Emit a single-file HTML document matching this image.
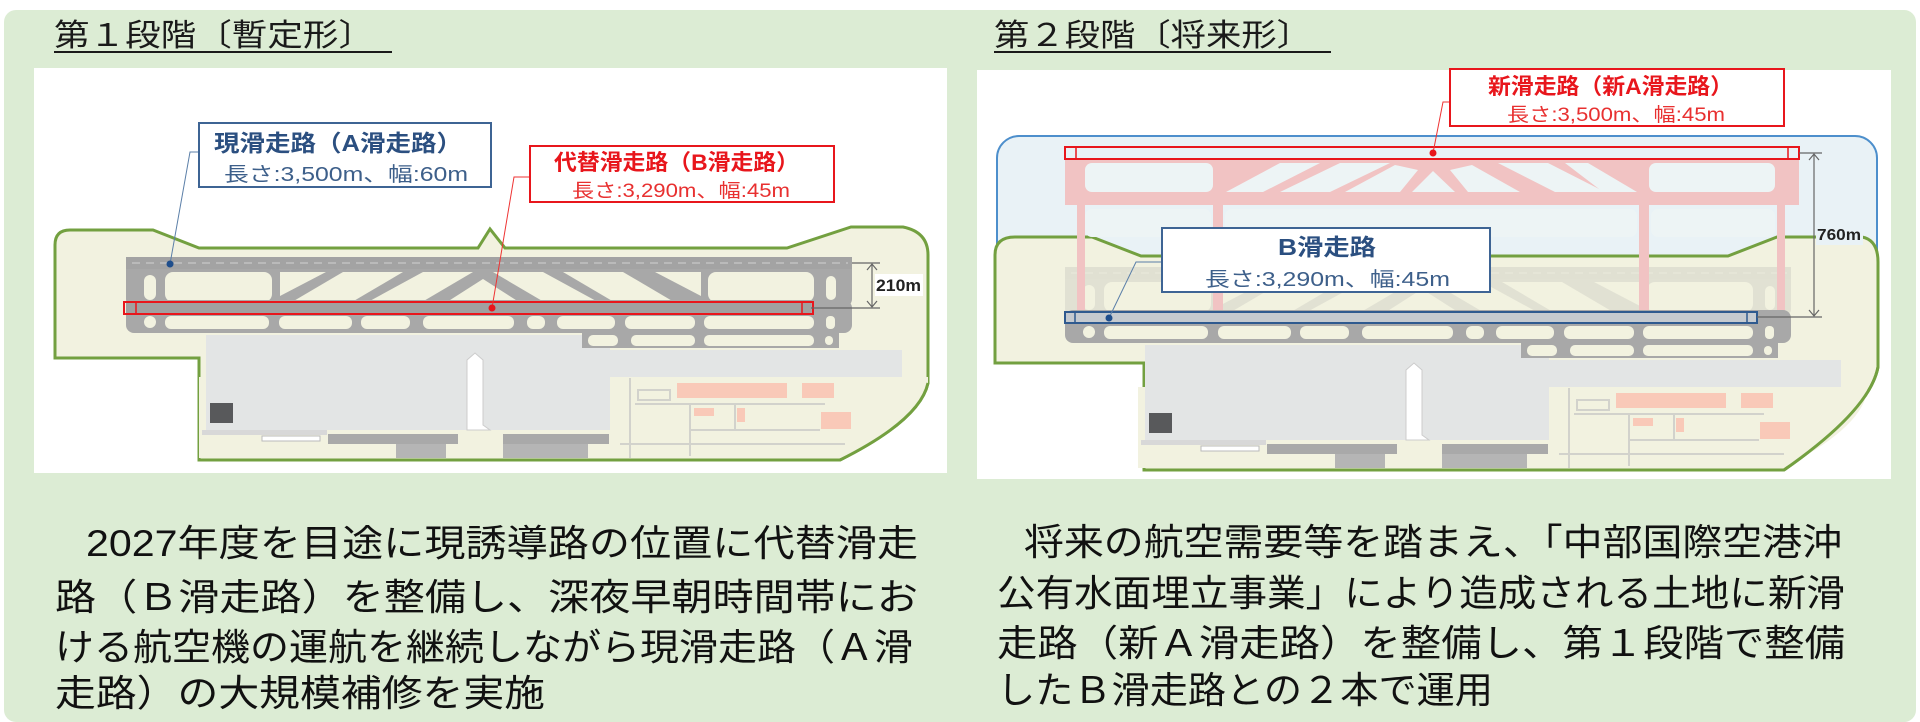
<!DOCTYPE html>
<html><head><meta charset="utf-8"><style>
html,body{margin:0;padding:0;background:#fff;}
svg{display:block;}
text{font-family:"Liberation Sans","Noto Sans CJK JP",sans-serif;}
</style></head><body>
<svg width="1920" height="722" viewBox="0 0 1920 722" xmlns="http://www.w3.org/2000/svg">
<defs>
<clipPath id="landclip">
  <path d="M55,245 Q55,230 70,230 L153,230 L199,248 L478,248 L490,229 L505,248 L787,248 L851,227 L903,227 Q928,232 928,255 L928,383 Q920,420 840,460 L199,460 L199,358 L55,358 Z"/>
</clipPath>
<g id="term">
  <g clip-path="url(#landclip)">
  <rect x="199" y="377" width="730" height="81" fill="#f2f2e0"/>
  <rect x="206" y="335" width="404" height="95" fill="#e3e5e5"/>
  <rect x="610" y="350" width="292" height="27" fill="#e3e5e5"/>
  <path d="M467,430 L467,360 L475,353 L483,360 L483,425 L490,430 Z" fill="#fff" stroke="#ccc" stroke-width="1"/>
  <rect x="210" y="403" width="23" height="20" fill="#58595b"/>
  <rect x="202" y="430" width="125" height="5" fill="#d8d8d8"/>
  <rect x="328" y="434" width="130" height="10" fill="#a9a9a9"/>
  <rect x="396" y="444" width="50" height="14" fill="#b5b5b5"/>
  <rect x="503" y="434" width="106" height="10" fill="#a9a9a9"/>
  <rect x="503" y="444" width="85" height="14" fill="#b5b5b5"/>
  <rect x="262" y="436" width="58" height="5" fill="#fff" stroke="#bbb" stroke-width="1"/>
  <rect x="677" y="383" width="110" height="15" fill="#f9c9b8"/>
  <rect x="802" y="383" width="32" height="15" fill="#f9c9b8"/>
  <rect x="821" y="412" width="30" height="17" fill="#f9c9b8"/>
  <rect x="694" y="408" width="20" height="8" fill="#f9c9b8"/>
  <rect x="737" y="408" width="8" height="14" fill="#f9c9b8"/>
  <g stroke="#d2d2cc" stroke-width="2" fill="none">
    <line x1="630" y1="378" x2="630" y2="458"/>
    <line x1="635" y1="404" x2="825" y2="404"/>
    <line x1="690" y1="404" x2="690" y2="456"/>
    <line x1="735" y1="404" x2="735" y2="430"/>
    <line x1="690" y1="430" x2="820" y2="430"/>
    <line x1="620" y1="444" x2="845" y2="444"/>
    <rect x="638" y="390" width="32" height="10"/>
  </g>
  </g>
</g>
<g id="below">
  <rect x="126" y="300" width="726" height="33" rx="8" fill="#a8a8a8"/>
  <rect x="582" y="320" width="257" height="28" fill="#a8a8a8"/>
  <g fill="#f2f2e0">
    <rect x="144" y="316" width="12" height="12" rx="6"/>
    <rect x="165" y="316" width="104" height="13" rx="6"/>
    <rect x="279" y="316" width="73" height="13" rx="6"/>
    <rect x="361" y="316" width="49" height="13" rx="6"/>
    <rect x="423" y="316" width="91" height="13" rx="6"/>
    <rect x="527" y="316" width="18" height="13" rx="6"/>
    <rect x="557" y="316" width="58" height="13" rx="6"/>
    <rect x="625" y="316" width="70" height="13" rx="6"/>
    <rect x="704" y="316" width="110" height="13" rx="6"/>
    <rect x="826" y="316" width="9" height="13" rx="4"/>
    <rect x="588" y="335" width="30" height="11" rx="5"/>
    <rect x="631" y="335" width="64" height="11" rx="5"/>
    <rect x="704" y="335" width="110" height="11" rx="5"/>
    <rect x="825" y="336" width="8" height="9" rx="4"/>
  </g>
  <rect x="126" y="302" width="685" height="11" fill="#a0a0a0"/>
</g>
<g id="above">
  <rect x="126" y="257" width="726" height="50" rx="8" fill="#a8a8a8"/>
  <rect x="126" y="257" width="726" height="12" fill="#a3a3a3"/>
  <line x1="132" y1="263" x2="848" y2="263" stroke="#c2c2c2" stroke-width="1.5" stroke-dasharray="8,6"/>
  <g fill="#f2f2e0">
    <rect x="144" y="275" width="12" height="25" rx="6"/>
    <rect x="165" y="272" width="107" height="30" rx="8"/>
    <path d="M280,272 L326,272 L280,296 Z"/>
    <path d="M292,302 L352,302 L403,272 L343,272 Z"/>
    <path d="M368,302 L422,302 L473,272 L423,272 Z"/>
    <path d="M447,302 L483,279 L519,302 Z"/>
    <path d="M544,302 L598,302 L543,272 L493,272 Z"/>
    <path d="M614,302 L674,302 L623,272 L563,272 Z"/>
    <path d="M701,272 L655,272 L701,296 Z"/>
    <rect x="708" y="272" width="106" height="30" rx="8"/>
    <rect x="826" y="276" width="10" height="24" rx="5"/>
  </g>
</g>
</defs>

<rect x="4" y="10" width="1912" height="712" rx="12" fill="#dcecd4"/>

<text x="54" y="46" font-size="31" fill="#1a1a1a" textLength="320" lengthAdjust="spacingAndGlyphs">第１段階〔暫定形〕</text>
<rect x="54" y="51" width="338" height="2" fill="#1a1a1a"/>
<text x="994" y="46" font-size="31" fill="#1a1a1a" textLength="318" lengthAdjust="spacingAndGlyphs">第２段階〔将来形〕</text>
<rect x="994" y="51" width="337" height="2" fill="#1a1a1a"/>

<rect x="34" y="68" width="913" height="405" fill="#fff"/>
<rect x="977" y="70" width="914" height="409" fill="#fff"/>

<!-- LEFT MAP -->
<path d="M55,245 Q55,230 70,230 L153,230 L199,248 L478,248 L490,229 L505,248 L787,248 L851,227 L903,227 Q928,232 928,255 L928,383 Q920,420 840,460 L199,460 L199,358 L55,358 Z" fill="#f2f2e0" stroke="#73a040" stroke-width="3"/>
<use href="#term"/>
<use href="#above"/>
<use href="#below"/>
<path d="M928,383 Q920,420 840,460" fill="none" stroke="#73a040" stroke-width="3"/>
<rect x="124" y="302" width="689" height="12" fill="none" stroke="#e8161c" stroke-width="2"/>
<line x1="136" y1="302" x2="136" y2="314" stroke="#e8161c" stroke-width="1.5"/>
<line x1="802" y1="302" x2="802" y2="314" stroke="#e8161c" stroke-width="1.5"/>
<g stroke="#666" stroke-width="1.2" fill="none">
  <line x1="852" y1="263" x2="880" y2="263"/>
  <line x1="811" y1="308" x2="880" y2="308"/>
  <line x1="872" y1="264" x2="872" y2="307"/>
  <path d="M867,270 L872,264 L877,270 M867,301 L872,307 L877,301"/>
</g>
<rect x="875" y="274" width="48" height="22" fill="#fff"/>
<text x="876" y="291" font-size="17" font-weight="bold" fill="#222" textLength="45" lengthAdjust="spacingAndGlyphs">210m</text>
<polyline points="199,152 190,152 170,264" fill="none" stroke="#5b7fa8" stroke-width="1"/>
<circle cx="170" cy="264" r="3.5" fill="#1f4e8c"/>
<polyline points="530,177 514,177 492,308" fill="none" stroke="#ee3333" stroke-width="1"/>
<circle cx="492" cy="308" r="3.5" fill="#e8161c"/>
<rect x="199" y="123" width="292" height="64" fill="#fff" stroke="#3e6494" stroke-width="2"/>
<text x="214" y="151" font-size="23" font-weight="bold" fill="#2b4f80" textLength="248" lengthAdjust="spacingAndGlyphs">現滑走路（A滑走路）</text>
<text x="224" y="181" font-size="20" fill="#3d5f8a" textLength="244" lengthAdjust="spacingAndGlyphs">長さ:3,500m、幅:60m</text>
<rect x="530" y="146" width="304" height="56" fill="#fff" stroke="#e8161c" stroke-width="2"/>
<text x="554" y="170" font-size="22" font-weight="bold" fill="#e8161c" textLength="245" lengthAdjust="spacingAndGlyphs">代替滑走路（B滑走路）</text>
<text x="572" y="197" font-size="19" fill="#e83030" textLength="218" lengthAdjust="spacingAndGlyphs">長さ:3,290m、幅:45m</text>

<!-- RIGHT MAP -->
<rect x="997" y="136" width="880" height="200" rx="22" fill="#e9f2f6" stroke="#4d8fcc" stroke-width="2"/>
<path d="M995,255 Q995,237 1015,237 L1092,237 L1141,256 L1728,256 L1777,237 L1862,237 Q1878,240 1878,262 L1878,367 Q1870,410 1784,470 L1144,470 L1144,363 L995,363 Z" fill="#f2f2e0" stroke="#73a040" stroke-width="3"/>
<use href="#term" transform="translate(939,10)"/>
<!-- faint old taxiways -->
<g opacity="0.22"><use href="#above" transform="translate(939,10)"/></g>
<!-- pink structure -->
<g fill="#f1c3c3">
  <rect x="1065" y="159" width="734" height="46"/>
  <rect x="1077" y="205" width="8" height="107"/>
  <rect x="1213" y="205" width="10" height="107"/>
  <rect x="1639" y="205" width="10" height="107"/>
  <rect x="1777" y="205" width="8" height="107"/>
</g>
<g fill="#edf4f5">
  <rect x="1085" y="163" width="128" height="29" rx="7"/>
  <rect x="1085" y="209" width="126" height="28" rx="7"/>
  <rect x="1225" y="209" width="412" height="28" rx="7"/>
  <rect x="1651" y="209" width="124" height="28" rx="7"/>
  <path d="M1226,192 L1280,163 L1320,163 L1263,192 Z"/>
  <path d="M1280,192 L1340,163 L1390,163 L1330,192 Z"/>
  <path d="M1345,192 L1395,165 L1418,170 L1400,192 Z"/>
  <path d="M1412,192 L1433,171 L1455,192 Z"/>
  <path d="M1468,192 L1450,170 L1472,165 L1520,192 Z"/>
  <path d="M1555,192 L1498,163 L1548,163 L1605,192 Z"/>
  <path d="M1603,192 L1565,163 L1588,163 L1637,192 Z"/>
  <rect x="1649" y="163" width="126" height="29" rx="7"/>
</g>
<use href="#below" transform="translate(939,10)"/>
<path d="M1878,367 Q1870,410 1784,470" fill="none" stroke="#73a040" stroke-width="3"/>
<rect x="1065" y="312" width="692" height="11" fill="#dde6ee" opacity="0.6"/>
<rect x="1065" y="312" width="692" height="11" fill="none" stroke="#2f5a8f" stroke-width="2"/>
<line x1="1075" y1="312" x2="1075" y2="323" stroke="#2f5a8f" stroke-width="1.5"/>
<line x1="1747" y1="312" x2="1747" y2="323" stroke="#2f5a8f" stroke-width="1.5"/>
<rect x="1065" y="147" width="734" height="12" fill="none" stroke="#e8161c" stroke-width="2"/>
<line x1="1076" y1="147" x2="1076" y2="159" stroke="#e8161c" stroke-width="1.5"/>
<line x1="1788" y1="147" x2="1788" y2="159" stroke="#e8161c" stroke-width="1.5"/>
<g stroke="#666" stroke-width="1.2" fill="none">
  <line x1="1799" y1="153" x2="1822" y2="153"/>
  <line x1="1757" y1="317" x2="1822" y2="317"/>
  <line x1="1814" y1="154" x2="1814" y2="316"/>
  <path d="M1809,160 L1814,154 L1819,160 M1809,310 L1814,316 L1819,310"/>
</g>
<rect x="1816" y="223" width="47" height="22" fill="#e9f2f6"/>
<text x="1817" y="240" font-size="16" font-weight="bold" fill="#222" textLength="44" lengthAdjust="spacingAndGlyphs">760m</text>
<polyline points="1450,102 1443,102 1433,153" fill="none" stroke="#ee3333" stroke-width="1"/>
<circle cx="1433" cy="153" r="3.5" fill="#e8161c"/>
<polyline points="1162,262 1136,262 1109,318" fill="none" stroke="#5b7fa8" stroke-width="1"/>
<circle cx="1109" cy="318" r="3.5" fill="#1f4e8c"/>
<rect x="1450" y="69" width="334" height="57" fill="#fff" stroke="#e8161c" stroke-width="2"/>
<text x="1488" y="94" font-size="22" font-weight="bold" fill="#e8161c" textLength="245" lengthAdjust="spacingAndGlyphs">新滑走路（新A滑走路）</text>
<text x="1507" y="121" font-size="19" fill="#e83030" textLength="218" lengthAdjust="spacingAndGlyphs">長さ:3,500m、幅:45m</text>
<rect x="1162" y="228" width="328" height="64" fill="#fff" stroke="#3e6494" stroke-width="2"/>
<text x="1278" y="255" font-size="23" font-weight="bold" fill="#2b4f80" textLength="98" lengthAdjust="spacingAndGlyphs">B滑走路</text>
<text x="1205" y="286" font-size="20" fill="#3d5f8a" textLength="245" lengthAdjust="spacingAndGlyphs">長さ:3,290m、幅:45m</text>

<g font-size="37" fill="#111">
<text x="86" y="556" textLength="832" lengthAdjust="spacingAndGlyphs">2027年度を目途に現誘導路の位置に代替滑走</text>
<text x="55" y="610" textLength="863" lengthAdjust="spacingAndGlyphs">路（Ｂ滑走路）を整備し、深夜早朝時間帯にお</text>
<text x="55" y="660" textLength="858" lengthAdjust="spacingAndGlyphs">ける航空機の運航を継続しながら現滑走路（Ａ滑</text>
<text x="55" y="706" textLength="490" lengthAdjust="spacingAndGlyphs">走路）の大規模補修を実施</text>
<text x="1024" y="555" textLength="818" lengthAdjust="spacingAndGlyphs">将来の航空需要等を踏まえ、「中部国際空港沖</text>
<text x="997" y="606" textLength="848" lengthAdjust="spacingAndGlyphs">公有水面埋立事業」により造成される土地に新滑</text>
<text x="997" y="656" textLength="848" lengthAdjust="spacingAndGlyphs">走路（新Ａ滑走路）を整備し、第１段階で整備</text>
<text x="997" y="703" textLength="496" lengthAdjust="spacingAndGlyphs">したＢ滑走路との２本で運用</text>
</g>
</svg>
</body></html>
